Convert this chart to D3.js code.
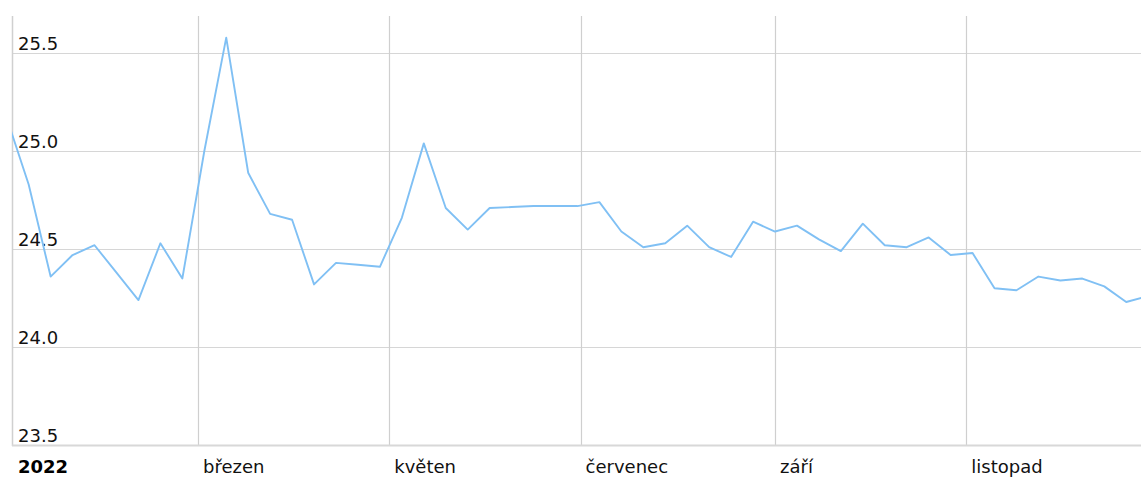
<!DOCTYPE html>
<html>
<head>
<meta charset="utf-8">
<script src="https://cdn.jsdelivr.net/npm/d3@7"></script>
<style>
  body { margin: 0; background: #fff; }
  svg { display: block; font-family: "DejaVu Sans", Verdana, sans-serif; }
  .grid line { stroke: #d6d6d6; stroke-width: 1; }
  .vgrid line { stroke: #cfcfcf; stroke-width: 1.2; }
  .label { font-size: 18px; fill: #111; }
</style>
</head>
<body>
<svg width="1141" height="477"></svg>
<script>
'use strict'

// weekly rate (Thursdays), 30.12.2021 .. 29.12.2022
const dates = [
  '2021-12-30', '2022-01-06', '2022-01-13', '2022-01-20', '2022-01-27',
  '2022-02-03', '2022-02-10', '2022-02-17', '2022-02-24', '2022-03-03',
  '2022-03-10', '2022-03-17', '2022-03-24', '2022-03-31', '2022-04-07',
  '2022-04-14', '2022-04-21', '2022-04-28', '2022-05-05', '2022-05-12',
  '2022-05-19', '2022-05-26', '2022-06-02', '2022-06-09', '2022-06-16',
  '2022-06-23', '2022-06-30', '2022-07-07', '2022-07-14', '2022-07-21',
  '2022-07-28', '2022-08-04', '2022-08-11', '2022-08-18', '2022-08-25',
  '2022-09-01', '2022-09-08', '2022-09-15', '2022-09-22', '2022-09-29',
  '2022-10-06', '2022-10-13', '2022-10-20', '2022-10-27', '2022-11-03',
  '2022-11-10', '2022-11-17', '2022-11-24', '2022-12-01', '2022-12-08',
  '2022-12-15', '2022-12-22', '2022-12-29'
]
const values = [
  25.17, 24.83, 24.36, 24.47, 24.52,
  24.38, 24.24, 24.53, 24.35, 25.00,
  25.58, 24.89, 24.68, 24.65, 24.32,
  24.43, 24.42, 24.41, 24.66, 25.04,
  24.71, 24.60, 24.71, 24.715, 24.72,
  24.72, 24.72, 24.74, 24.59, 24.51,
  24.53, 24.62, 24.51, 24.46, 24.64,
  24.59, 24.62, 24.55, 24.49, 24.63,
  24.52, 24.51, 24.56, 24.47, 24.48,
  24.30, 24.29, 24.36, 24.34, 24.35,
  24.31, 24.23, 24.26
]
const yTicks = [23.5, 24.0, 24.5, 25.0, 25.5]
const monthTicks = ['2022-03-01', '2022-05-01', '2022-07-01', '2022-09-01', '2022-11-01']
const monthLabels = ['březen', 'květen', 'červenec', 'září', 'listopad']
const yearLabel = '2022'

const parse = d3.timeParse('%Y-%m-%d')
const data = dates.map((d, i) => ({ date: parse(d), value: values[i] }))

const svg = d3.select('svg')
const plotL = 12, plotR = 1141, plotT = 16, plotB = 445

const x = d3.scaleTime()
  .domain([parse('2022-01-01'), parse('2022-11-01')])
  .range([13, 966.3])

const y = d3.scaleLinear()
  .domain([23.5, 25.5])
  .range([plotB, 53.3])

svg.append('clipPath').attr('id', 'plot')
  .append('rect')
  .attr('x', plotL).attr('y', plotT)
  .attr('width', plotR - plotL).attr('height', plotB - plotT)

// horizontal grid
svg.append('g')
  .attr('class', 'grid')
  .selectAll('line')
  .data(yTicks.slice(1))
  .enter()
  .append('line')
  .attr('x1', plotL).attr('x2', plotR)
  .attr('y1', (d) => Math.round(y(d)) + 0.5)
  .attr('y2', (d) => Math.round(y(d)) + 0.5)

// vertical month lines
svg.append('g')
  .attr('class', 'vgrid')
  .selectAll('line')
  .data(monthTicks)
  .enter()
  .append('line')
  .attr('x1', (d) => Math.round(x(parse(d))) + 0.5)
  .attr('x2', (d) => Math.round(x(parse(d))) + 0.5)
  .attr('y1', plotT).attr('y2', plotB)

// left and bottom frame
svg.append('line')
  .attr('x1', plotL + 0.5).attr('x2', plotL + 0.5)
  .attr('y1', plotT).attr('y2', plotB + 1)
  .attr('stroke', '#d0d0d0').attr('stroke-width', 1.5)
svg.append('line')
  .attr('x1', plotL).attr('x2', plotR)
  .attr('y1', plotB + 0.5).attr('y2', plotB + 0.5)
  .attr('stroke', '#d8d8d8').attr('stroke-width', 2)

// y labels inside the plot
svg.append('g')
  .selectAll('text')
  .data(yTicks)
  .enter()
  .append('text')
  .attr('class', 'label')
  .attr('x', plotL + 6)
  .attr('y', (d) => y(d) - 3)
  .text((d) => d.toFixed(1))

// x labels
svg.append('text')
  .attr('class', 'label')
  .attr('x', plotL + 6)
  .attr('y', 473)
  .attr('font-weight', 'bold')
  .style('fill', '#000')
  .text(yearLabel)

svg.append('g')
  .selectAll('text')
  .data(monthTicks)
  .enter()
  .append('text')
  .attr('class', 'label')
  .attr('x', (d) => x(parse(d)) + 5)
  .attr('y', 473)
  .text((d, i) => monthLabels[i])

const line = d3.line()
  .x((d) => x(d.date))
  .y((d) => y(d.value))

svg.append('path')
  .datum(data)
  .attr('clip-path', 'url(#plot)')
  .attr('fill', 'none')
  .attr('stroke', '#80c0f4')
  .attr('stroke-width', 1.9)
  .attr('stroke-linejoin', 'round')
  .attr('d', line)
</script>
</body>
</html>
